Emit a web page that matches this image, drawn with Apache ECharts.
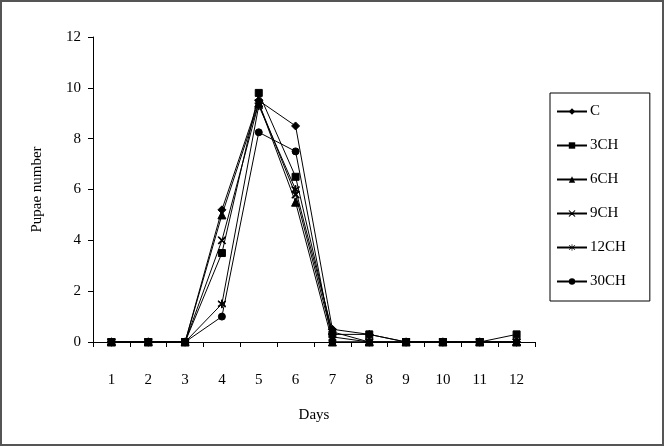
<!DOCTYPE html>
<html>
<head>
<meta charset="utf-8">
<script src="https://cdn.jsdelivr.net/npm/echarts@6/dist/echarts.min.js"></script>
<style>
  html, body { margin: 0; padding: 0; background: #fff; }
  #chart { width: 665px; height: 447px; }
</style>
</head>
<body>
<div id="chart"></div>
<script>
const days = ["1", "2", "3", "4", "5", "6", "7", "8", "9", "10", "11", "12"];
const seriesC    = [0, 0, 0, 5.2, 9.5, 8.5, 0.5, 0.3, 0, 0, 0, 0];
const series3CH  = [0, 0, 0, 3.5, 9.8, 6.5, 0.3, 0.3, 0, 0, 0, 0.3];
const series6CH  = [0, 0, 0, 5.0, 9.4, 5.5, 0, 0, 0, 0, 0, 0];
const series9CH  = [0, 0, 0, 4.0, 9.4, 5.8, 0.2, 0, 0, 0, 0, 0];
const series12CH = [0, 0, 0, 1.5, 9.3, 6.0, 0.4, 0, 0, 0, 0, 0];
const series30CH = [0, 0, 0, 1.0, 8.25, 7.5, 0, 0, 0, 0, 0, 0];

const font = "Liberation Serif";
const cross = "path://M0,0L10,10M10,0L0,10M0,0L1,0L10,9L10,10L9,10L0,1ZM9,0L10,0L10,1L1,10L0,10L0,9Z";
const asterisk = "path://M4.5,0H5.5V4.2L9,1.2L9.7,1.9L6.2,5L9.7,8.1L9,8.8L5.5,5.8V10H4.5V5.8L1,8.8L0.3,8.1L3.8,5L0.3,1.9L1,1.2L4.5,4.2Z";

const defs = [
  { name: "C", data: seriesC, symbol: "diamond", size: 8 },
  { name: "3CH", data: series3CH, symbol: "rect", size: 7 },
  { name: "6CH", data: series6CH, symbol: "triangle", size: 8 },
  { name: "9CH", data: series9CH, symbol: cross, size: 7 },
  { name: "12CH", data: series12CH, symbol: asterisk, size: 8 },
  { name: "30CH", data: series30CH, symbol: "circle", size: 7 },
];

const chart = echarts.init(document.getElementById("chart"));
chart.setOption({
  animation: false,
  backgroundColor: "#fff",
  textStyle: { fontFamily: font, color: "#000" },
  graphic: [
    {
      type: "rect",
      shape: { x: 1, y: 1, width: 662, height: 444 },
      style: { fill: null, stroke: "#555", lineWidth: 2 },
      silent: true,
    },
  ],
  grid: { left: 93, top: 37, width: 442, height: 305 },
  legend: {
    orient: "vertical",
    left: 550,
    top: 93,
    padding: [11, 24, 12, 6],
    itemGap: 19,
    itemWidth: 30,
    itemHeight: 8,
    borderColor: "#000",
    borderWidth: 1,
    textStyle: { fontFamily: font, fontSize: 15, color: "#000", padding: [0, 0, 0, -2] },
    data: defs.map(d => d.name),
  },
  xAxis: {
    type: "category",
    data: days,
    boundaryGap: true,
    name: "Days",
    nameLocation: "middle",
    nameGap: 66,
    nameTextStyle: { fontFamily: font, fontSize: 15, color: "#000" },
    axisLine: { lineStyle: { color: "#000", width: 1 } },
    axisTick: { show: true, length: 5, lineStyle: { color: "#000" } },
    axisLabel: { fontFamily: font, fontSize: 15, color: "#000", margin: 31 },
  },
  yAxis: {
    type: "value",
    min: 0,
    max: 12,
    interval: 2,
    name: "Pupae number",
    nameLocation: "middle",
    nameGap: 48,
    nameTextStyle: { fontFamily: font, fontSize: 15, color: "#000" },
    splitLine: { show: false },
    axisLine: { show: true, lineStyle: { color: "#000", width: 1 } },
    axisTick: { show: true, length: 5, lineStyle: { color: "#000" } },
    axisLabel: { fontFamily: font, fontSize: 15, color: "#000", margin: 12 },
  },
  series: defs.map(d => ({
    name: d.name,
    type: "line",
    data: d.data,
    symbol: d.symbol,
    symbolSize: d.size,
    showAllSymbol: true,
    lineStyle: { color: "#000", width: 1 },
    itemStyle: { color: "#000", borderColor: "#000" },
    emphasis: { disabled: true },
  })),
});
</script>
</body>
</html>
